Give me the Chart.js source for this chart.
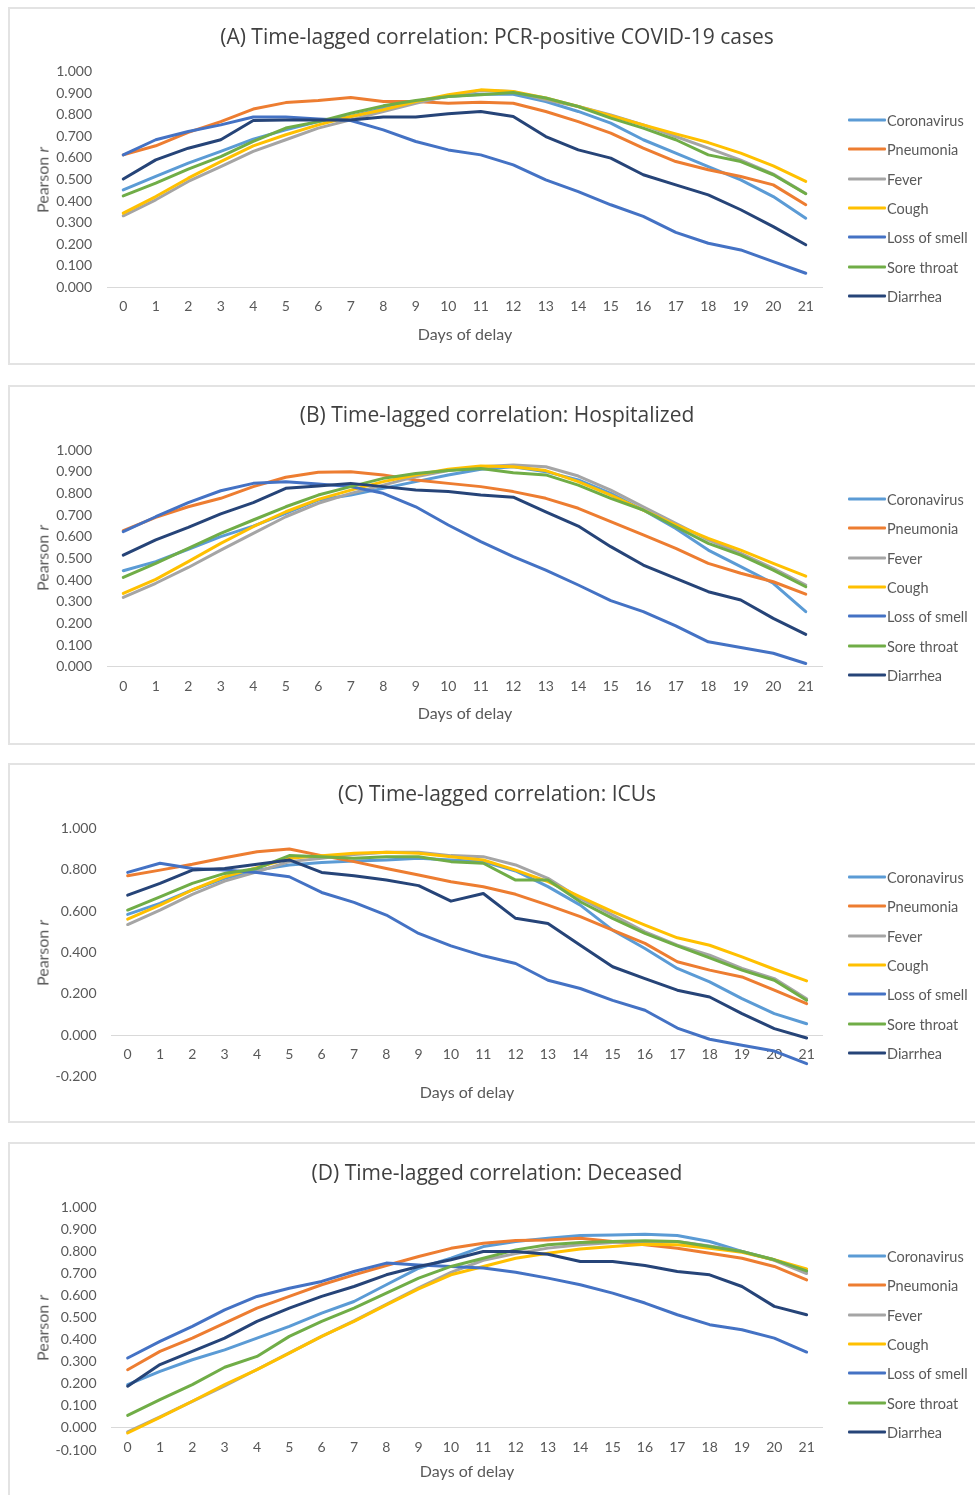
<!DOCTYPE html>
<html>
<head>
<meta charset="utf-8">
<script src="https://cdn.jsdelivr.net/npm/chart.js@4.4.1/dist/chart.umd.min.js"></script>
<style>
    body { margin: 0; width: 975px; height: 1495px; overflow: hidden; background: #fff; position: relative;
           font-family: Lato, "Open Sans", sans-serif; color: #595959; }
    .box { position: absolute; left: 8px; width: 1000px; border: 2px solid #e3e3e3; box-sizing: border-box; }
    canvas { position: absolute; left: 0; }
    .title { position: absolute; font-family: "Open Sans", sans-serif; font-size: 21px; color: #404040; white-space: nowrap; transform: translate(-50%, -50%); }
    .xtitle { position: absolute; font-size: 16px; white-space: nowrap; transform: translate(-50%, -50%); }
    .ytitle { position: absolute; font-size: 16px; white-space: nowrap; transform: translate(-50%, -50%) rotate(-90deg); }
    .leg { position: absolute; left: 848px; font-size: 14.5px; white-space: nowrap; display: flex; align-items: center; transform: translateY(-50%); }
    .leg span { display: inline-block; width: 38px; height: 3px; margin-right: 1px; border-radius: 1px; }
</style>
</head>
<body>
<script>
// Days of delay (x axis)
const days = ['0','1','2','3','4','5','6','7','8','9','10','11','12','13','14','15','16','17','18','19','20','21'];
const seriesNames = ['Coronavirus', 'Pneumonia', 'Fever', 'Cough', 'Loss of smell', 'Sore throat', 'Diarrhea'];
const seriesColors = ['#5B9BD5', '#ED7D31', '#A5A5A5', '#FFC000', '#4472C4', '#70AD47', '#264478'];

// (A) PCR-positive COVID-19 cases
const pcrCoronavirus = [0.452,0.514,0.576,0.630,0.687,0.730,0.768,0.792,0.830,0.861,0.884,0.895,0.895,0.861,0.815,0.761,0.684,0.622,0.560,0.498,0.421,0.321];
const pcrPneumonia   = [0.614,0.656,0.718,0.768,0.826,0.856,0.866,0.880,0.861,0.861,0.853,0.858,0.853,0.815,0.768,0.715,0.645,0.583,0.545,0.514,0.475,0.383];
const pcrFever       = [0.332,0.406,0.491,0.560,0.630,0.684,0.738,0.776,0.815,0.853,0.887,0.912,0.907,0.869,0.838,0.799,0.753,0.699,0.645,0.590,0.525,0.435];
const pcrCough       = [0.344,0.421,0.506,0.583,0.656,0.707,0.753,0.792,0.823,0.861,0.892,0.915,0.907,0.877,0.838,0.795,0.753,0.711,0.671,0.622,0.563,0.491];
const pcrSmell       = [0.614,0.684,0.722,0.753,0.789,0.789,0.780,0.773,0.730,0.676,0.637,0.614,0.568,0.498,0.444,0.383,0.329,0.255,0.205,0.174,0.120,0.066];
const pcrThroat      = [0.424,0.483,0.548,0.606,0.676,0.738,0.768,0.807,0.841,0.866,0.884,0.892,0.903,0.877,0.838,0.784,0.738,0.684,0.614,0.583,0.522,0.434];
const pcrDiarrhea    = [0.502,0.591,0.645,0.684,0.773,0.776,0.776,0.776,0.789,0.789,0.804,0.815,0.792,0.699,0.637,0.599,0.522,0.475,0.429,0.360,0.282,0.198];

// (B) Hospitalized
const hospCoronavirus = [0.443,0.485,0.542,0.600,0.649,0.708,0.769,0.792,0.823,0.854,0.885,0.911,0.923,0.900,0.862,0.800,0.723,0.638,0.538,0.462,0.385,0.254];
const hospPneumonia   = [0.628,0.689,0.738,0.777,0.831,0.874,0.897,0.900,0.885,0.862,0.846,0.831,0.808,0.777,0.731,0.669,0.608,0.546,0.477,0.431,0.392,0.335];
const hospFever       = [0.320,0.385,0.458,0.538,0.615,0.692,0.754,0.800,0.838,0.877,0.905,0.923,0.931,0.923,0.880,0.815,0.738,0.662,0.585,0.523,0.454,0.377];
const hospCough       = [0.338,0.403,0.485,0.569,0.646,0.715,0.772,0.815,0.854,0.885,0.911,0.926,0.923,0.905,0.854,0.792,0.723,0.654,0.592,0.538,0.477,0.418];
const hospSmell       = [0.623,0.692,0.757,0.812,0.846,0.854,0.843,0.831,0.800,0.738,0.654,0.577,0.508,0.446,0.377,0.305,0.254,0.188,0.115,0.089,0.062,0.015];
const hospThroat      = [0.412,0.477,0.546,0.615,0.677,0.738,0.792,0.831,0.869,0.892,0.905,0.915,0.895,0.885,0.838,0.777,0.723,0.646,0.569,0.515,0.446,0.369];
const hospDiarrhea    = [0.515,0.585,0.643,0.705,0.757,0.823,0.834,0.846,0.831,0.815,0.808,0.792,0.782,0.715,0.649,0.554,0.469,0.408,0.346,0.308,0.223,0.149];

// (C) ICUs
const icuCoronavirus = [0.584,0.637,0.702,0.758,0.798,0.823,0.835,0.842,0.847,0.855,0.847,0.839,0.794,0.718,0.629,0.508,0.419,0.323,0.258,0.177,0.105,0.056];
const icuPneumonia   = [0.771,0.798,0.826,0.858,0.887,0.900,0.868,0.839,0.806,0.774,0.742,0.718,0.681,0.629,0.573,0.508,0.444,0.355,0.315,0.282,0.218,0.153];
const icuFever       = [0.535,0.605,0.681,0.745,0.790,0.839,0.855,0.874,0.884,0.884,0.868,0.863,0.823,0.758,0.661,0.581,0.500,0.435,0.387,0.323,0.274,0.177];
const icuCough       = [0.561,0.629,0.702,0.766,0.810,0.855,0.868,0.879,0.884,0.879,0.863,0.847,0.798,0.742,0.669,0.597,0.532,0.471,0.435,0.379,0.319,0.263];
const icuSmell       = [0.787,0.831,0.806,0.798,0.787,0.766,0.690,0.642,0.581,0.492,0.432,0.384,0.347,0.266,0.226,0.169,0.121,0.035,-0.019,-0.048,-0.076,-0.137];
const icuThroat      = [0.605,0.669,0.734,0.782,0.806,0.868,0.863,0.855,0.863,0.863,0.839,0.831,0.750,0.750,0.645,0.565,0.492,0.432,0.374,0.315,0.266,0.169];
const icuDiarrhea    = [0.677,0.734,0.798,0.806,0.826,0.847,0.787,0.771,0.750,0.723,0.648,0.685,0.565,0.540,0.435,0.331,0.274,0.218,0.185,0.105,0.032,-0.013];

// (D) Deceased
const decCoronavirus = [0.196,0.256,0.309,0.354,0.407,0.460,0.520,0.573,0.649,0.724,0.769,0.822,0.845,0.860,0.872,0.875,0.878,0.872,0.845,0.800,0.762,0.709];
const decPneumonia   = [0.264,0.347,0.407,0.475,0.543,0.596,0.649,0.694,0.736,0.777,0.814,0.837,0.849,0.852,0.860,0.845,0.830,0.814,0.792,0.769,0.732,0.671];
const decFever       = [-0.018,0.050,0.120,0.190,0.265,0.340,0.415,0.485,0.560,0.635,0.705,0.760,0.790,0.815,0.830,0.840,0.845,0.845,0.825,0.800,0.760,0.700];
const decCough       = [-0.023,0.048,0.121,0.196,0.264,0.339,0.415,0.483,0.558,0.630,0.694,0.732,0.769,0.792,0.811,0.822,0.833,0.830,0.814,0.796,0.762,0.721];
const decSmell       = [0.317,0.392,0.460,0.535,0.596,0.633,0.664,0.709,0.747,0.739,0.732,0.725,0.706,0.679,0.649,0.611,0.566,0.513,0.468,0.445,0.407,0.344];
const decThroat      = [0.057,0.128,0.196,0.275,0.324,0.415,0.483,0.543,0.611,0.679,0.732,0.769,0.807,0.830,0.840,0.845,0.848,0.845,0.822,0.800,0.762,0.712];
const decDiarrhea    = [0.189,0.287,0.347,0.407,0.483,0.543,0.596,0.641,0.694,0.732,0.762,0.800,0.800,0.787,0.754,0.754,0.736,0.709,0.694,0.641,0.551,0.513];

// Panel layout (page pixels)
const panels = [
    { title: '(A) Time-lagged correlation: PCR-positive COVID-19 cases',
      series: [pcrCoronavirus, pcrPneumonia, pcrFever, pcrCough, pcrSmell, pcrThroat, pcrDiarrhea],
      yMin: 0, yMax: 1, yStep: 0.1,
      boxTop: 7, boxBottom: 365, plot: { left: 107, right: 822, top: 71.5, bottom: 287.5 },
      titleY: 36, xTitleX: 465, xTitleY: 333, yTitleY: 180, legendY: 120 },
    { title: '(B) Time-lagged correlation: Hospitalized',
      series: [hospCoronavirus, hospPneumonia, hospFever, hospCough, hospSmell, hospThroat, hospDiarrhea],
      yMin: 0, yMax: 1, yStep: 0.1,
      boxTop: 385, boxBottom: 745, plot: { left: 107, right: 822, top: 450, bottom: 666.7 },
      titleY: 414, xTitleX: 465, xTitleY: 712, yTitleY: 558, legendY: 499 },
    { title: '(C) Time-lagged correlation: ICUs',
      series: [icuCoronavirus, icuPneumonia, icuFever, icuCough, icuSmell, icuThroat, icuDiarrhea],
      yMin: -0.2, yMax: 1, yStep: 0.2,
      boxTop: 763, boxBottom: 1123, plot: { left: 111.5, right: 822.8, top: 828.3, bottom: 1076.7 },
      titleY: 793, xTitleX: 467, xTitleY: 1091, yTitleY: 953, legendY: 877 },
    { title: '(D) Time-lagged correlation: Deceased',
      series: [decCoronavirus, decPneumonia, decFever, decCough, decSmell, decThroat, decDiarrhea],
      yMin: -0.1, yMax: 1, yStep: 0.1,
      boxTop: 1142, boxBottom: 1505, plot: { left: 111.5, right: 822.8, top: 1207.3, bottom: 1450 },
      titleY: 1172, xTitleX: 467, xTitleY: 1470, yTitleY: 1328, legendY: 1256 }
];

const Y_AXIS_WIDTH = 60;
const tickFont = { family: 'Lato, "Open Sans", sans-serif', size: 14 };

function addDiv(cls, html, left, top) {
    const el = document.createElement('div');
    el.className = cls;
    el.innerHTML = html;
    el.style.left = left + 'px';
    el.style.top = top + 'px';
    document.body.appendChild(el);
    return el;
}

panels.forEach(function(p) {
    const h = p.boxBottom - p.boxTop;

    // panel frame
    const box = document.createElement('div');
    box.className = 'box';
    box.style.top = p.boxTop + 'px';
    box.style.height = h + 'px';
    document.body.appendChild(box);

    const canvas = document.createElement('canvas');
    canvas.width = 975;
    canvas.height = h;
    canvas.style.top = p.boxTop + 'px';
    document.body.appendChild(canvas);

    new Chart(canvas, {
        type: 'line',
        data: {
            labels: days,
            datasets: p.series.map(function(values, i) {
                return {
                    label: seriesNames[i],
                    data: values,
                    borderColor: seriesColors[i],
                    backgroundColor: seriesColors[i],
                    borderWidth: 3,
                    pointRadius: 0,
                    tension: 0,
                    borderJoinStyle: 'round',
                    borderCapStyle: 'round',
                    order: seriesNames.length - 1 - i  // later series drawn on top, as in Excel
                };
            })
        },
        options: {
            responsive: false,
            animation: false,
            devicePixelRatio: 1,
            layout: {
                padding: {
                    left: p.plot.left - Y_AXIS_WIDTH,
                    right: 975 - p.plot.right,
                    top: p.plot.top - p.boxTop,
                    bottom: p.boxBottom - p.plot.bottom
                }
            },
            plugins: { legend: { display: false }, tooltip: { enabled: false } },
            scales: {
                x: {
                    position: { y: 0 },
                    offset: true,
                    grid: { display: false },
                    border: { display: true, color: '#d9d9d9', width: 1 },
                    ticks: { color: '#595959', font: tickFont, padding: 3, maxRotation: 0, autoSkip: false }
                },
                y: {
                    min: p.yMin,
                    max: p.yMax,
                    afterFit: function(scale) { scale.width = Y_AXIS_WIDTH; },
                    grid: { display: false },
                    border: { display: false },
                    ticks: {
                        stepSize: p.yStep,
                        color: '#595959',
                        font: tickFont,
                        padding: 7,
                        callback: function(v) {
                            const n = Math.abs(v) < 1e-9 ? 0 : Number(v);
                            return n.toFixed(3);
                        }
                    }
                }
            }
        }
    });

    addDiv('title', p.title, 497, p.titleY);
    addDiv('xtitle', 'Days of delay', p.xTitleX, p.xTitleY);
    addDiv('ytitle', 'Pearson <i>r</i>', 42, p.yTitleY);

    seriesNames.forEach(function(name, i) {
        addDiv('leg', '<span style="background:' + seriesColors[i] + '"></span>' + name, 848, p.legendY + i * 29.35);
    });
});
</script>
</body>
</html>
